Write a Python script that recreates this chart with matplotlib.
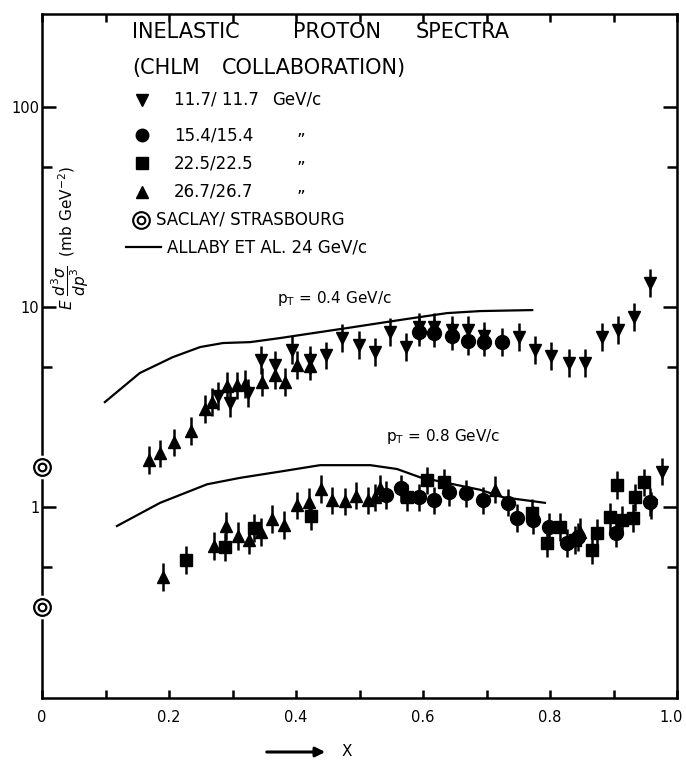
import numpy as np
import matplotlib.pyplot as plt
import matplotlib.transforms as mtransforms
from matplotlib.ticker import FixedLocator, NullFormatter

# pT = 0.4 GeV/c
x04_117 = [0.277, 0.296, 0.324, 0.345, 0.367, 0.394, 0.422, 0.447, 0.472, 0.499, 0.524,
           0.548, 0.573, 0.594, 0.617, 0.646, 0.671, 0.696, 0.751, 0.776, 0.802, 0.830,
           0.855, 0.882, 0.907, 0.932, 0.957]
y04_117 = [3.59, 3.31, 3.72, 5.43, 5.13, 6.10, 5.43, 5.75, 7.00, 6.46, 5.96,
           7.50, 6.31, 7.94, 7.94, 7.67, 7.67, 7.16, 7.08, 6.10, 5.69, 5.25,
           5.25, 7.08, 7.67, 8.91, 13.2]
x04_154 = [0.594, 0.617, 0.646, 0.671, 0.696, 0.724]
y04_154 = [7.50, 7.41, 7.16, 6.76, 6.68, 6.68]
x04_267 = [0.169, 0.186, 0.208, 0.235, 0.257, 0.268, 0.291, 0.307, 0.320, 0.346,
           0.367, 0.383, 0.402, 0.422]
y04_267 = [1.72, 1.86, 2.11, 2.40, 3.09, 3.35, 4.03, 4.07, 4.12, 4.22,
           4.57, 4.22, 5.13, 5.07]

# pT = 0.8 GeV/c
x08_117 = [0.959, 0.976]
y08_117 = [1.02, 1.50]
x08_154 = [0.542, 0.565, 0.594, 0.617, 0.641, 0.668, 0.694, 0.734, 0.748, 0.773,
           0.798, 0.827, 0.844, 0.904, 0.957]
y08_154 = [1.15, 1.24, 1.12, 1.08, 1.19, 1.17, 1.08, 1.05, 0.881, 0.861,
           0.794, 0.661, 0.708, 0.741, 1.06]
x08_225 = [0.227, 0.288, 0.334, 0.424, 0.575, 0.606, 0.633, 0.772, 0.795, 0.816,
           0.839, 0.866, 0.874, 0.894, 0.906, 0.913, 0.931, 0.934, 0.948]
y08_225 = [0.543, 0.631, 0.785, 0.902, 1.12, 1.36, 1.33, 0.933, 0.661, 0.794,
           0.684, 0.610, 0.741, 0.891, 1.29, 0.861, 0.881, 1.12, 1.33]
x08_267 = [0.191, 0.271, 0.290, 0.309, 0.326, 0.345, 0.362, 0.381, 0.402, 0.420,
           0.439, 0.457, 0.477, 0.494, 0.513, 0.524, 0.532, 0.713, 0.847]
y08_267 = [0.447, 0.638, 0.804, 0.716, 0.684, 0.750, 0.871, 0.813, 1.02, 1.06,
           1.23, 1.08, 1.07, 1.14, 1.08, 1.12, 1.24, 1.22, 0.750]

# Allaby et al. 24 GeV/c
xa04 = [0.099, 0.154, 0.206, 0.249, 0.285, 0.328, 0.375, 0.427, 0.480, 0.532,
        0.584, 0.638, 0.690, 0.772]
ya04 = [3.35, 4.68, 5.62, 6.31, 6.61, 6.68, 7.00, 7.41, 7.85, 8.32,
        8.81, 9.33, 9.55, 9.66]
xa08 = [0.118, 0.186, 0.260, 0.312, 0.378, 0.438, 0.517, 0.559, 0.595, 0.638,
        0.690, 0.726, 0.792]
ya08 = [0.804, 1.05, 1.30, 1.40, 1.51, 1.62, 1.62, 1.55, 1.41, 1.32,
        1.22, 1.12, 1.05]

# Saclay / Strasbourg
x_sac = [0.0, 0.0]
y_sac = [1.58, 0.316]

xticks = [0, 0.2, 0.4, 0.6, 0.8, 1.0]
xticklabels = ['0', '0.2', '0.4', '0.6', '0.8', '1.0']
yticks = [1, 10, 100]
yticklabels = ['1', '10', '100']

plt.rcParams['font.family'] = ['DejaVu Sans']
W, H = 686, 771
fig = plt.figure(figsize=(W / 100, H / 100), dpi=100)
L, R, B, T = 42, 677, 698, 14
ax = fig.add_axes([L / W, (H - B) / H, (R - L) / W, (B - T) / H])
ax.set_yscale('log')
ax.set_xlim(0, 1)
ax.set_ylim(0.111, 292)


def ax_xy(px, py):
    return (px - L) / (R - L), (B - py) / (B - T)


def errs(y):
    y = np.array(y)
    return [y - y / 1.17, y * 1.17 - y]


kw = dict(color='black', ls='none', elinewidth=1.8, capsize=0, zorder=3)
ax.errorbar(x04_117, y04_117, yerr=errs(y04_117), fmt='v', ms=9, **kw)
ax.errorbar(x04_154, y04_154, yerr=errs(y04_154), fmt='o', ms=10, **kw)
ax.errorbar(x04_267, y04_267, yerr=errs(y04_267), fmt='^', ms=9, **kw)
ax.errorbar(x08_117, y08_117, yerr=errs(y08_117), fmt='v', ms=9, **kw)
ax.errorbar(x08_154, y08_154, yerr=errs(y08_154), fmt='o', ms=10, **kw)
ax.errorbar(x08_225, y08_225, yerr=errs(y08_225), fmt='s', ms=8, **kw)
ax.errorbar(x08_267, y08_267, yerr=errs(y08_267), fmt='^', ms=9, **kw)

ax.plot(xa04, ya04, color='black', lw=1.6)
ax.plot(xa08, ya08, color='black', lw=1.6)

# saclay points sit on the axis and break it
ax.plot(x_sac, y_sac, 'o', ms=17, mfc='white', mec='none', clip_on=False, zorder=5)
ax.plot(x_sac, y_sac, 'o', ms=12, mfc='white', mec='black', mew=1.6, clip_on=False, zorder=6)
ax.plot(x_sac, y_sac, 'o', ms=5.5, mfc='white', mec='black', mew=1.6, clip_on=False, zorder=7)

for s in ax.spines.values():
    s.set_linewidth(1.8)

ax.xaxis.set_major_locator(FixedLocator(xticks))
ax.set_xticklabels(xticklabels, fontsize=10.5)
ax.xaxis.set_minor_locator(FixedLocator([0.1, 0.3, 0.5, 0.7, 0.9]))
ax.xaxis.set_minor_formatter(NullFormatter())
ax.yaxis.set_major_locator(FixedLocator(yticks))
ax.set_yticklabels(yticklabels, fontsize=10.5)
ax.yaxis.set_minor_locator(FixedLocator([0.5, 5, 50]))
ax.yaxis.set_minor_formatter(NullFormatter())
ax.tick_params(which='both', direction='in', top=True, right=True, width=1.8, colors='black')
ax.tick_params(axis='x', which='both', length=6, pad=9)
ax.tick_params(axis='y', which='major', length=10, pad=2)
ax.tick_params(axis='y', which='minor', length=7)
# keep "1.0" inside the picture
last = ax.get_xticklabels()[-1]
last.set_transform(last.get_transform() + mtransforms.ScaledTranslation(-6 / 100, 0, fig.dpi_scale_trans))

# title and legend block
tx = dict(transform=ax.transAxes, fontsize=15, va='center', ha='left')
for word, px in [('INELASTIC', 132), ('PROTON', 293), ('SPECTRA', 416)]:
    ax.text(*ax_xy(px, 32), word, **tx)
for word, px in [('(CHLM', 132), ('COLLABORATION)', 222)]:
    ax.text(*ax_xy(px, 68), word, **tx)

lg = dict(transform=ax.transAxes, fontsize=12, va='center', ha='left')
rows = [('v', 100, '11.7/ 11.7', 'GeV/c'), ('o', 135, '15.4/15.4', '\u201e'),
        ('s', 163, '22.5/22.5', '\u201e'), ('^', 192, '26.7/26.7', '\u201e')]
for mk, py, lab, extra in rows:
    ax.plot(*ax_xy(142, py), mk, color='black', ms=9, transform=ax.transAxes, clip_on=False)
    ax.text(*ax_xy(174, py), lab, **lg)
    if extra == 'GeV/c':
        ax.text(*ax_xy(272, py), extra, **lg)
    else:
        ax.text(*ax_xy(297, py - 5), extra, **lg)
ax.plot(*ax_xy(141, 220), 'o', ms=12, mfc='white', mec='black', mew=1.5, transform=ax.transAxes)
ax.plot(*ax_xy(141, 220), 'o', ms=5.5, mfc='white', mec='black', mew=1.5, transform=ax.transAxes)
ax.text(*ax_xy(156, 220), 'SACLAY/ STRASBOURG', **lg)
x0, y0 = ax_xy(126, 247)
x1, _ = ax_xy(161, 247)
ax.plot([x0, x1], [y0, y0], color='black', lw=1.6, transform=ax.transAxes)
ax.text(*ax_xy(167, 247), 'ALLABY ET AL. 24 GeV/c', **lg)

# y label inside the frame
ax.text(*ax_xy(70, 310), r'$E\ \dfrac{d^3\sigma}{dp^3}$  (mb GeV$^{-2}$)',
        transform=ax.transAxes, rotation=90, fontsize=11, ha='center', va='bottom')

ax.text(*ax_xy(277, 298), r'p$_\mathregular{T}$ = 0.4 GeV/c', transform=ax.transAxes,
        fontsize=11, ha='left', va='center')
ax.text(*ax_xy(386, 437), r'p$_\mathregular{T}$ = 0.8 GeV/c', transform=ax.transAxes,
        fontsize=11, ha='left', va='center')

# arrow with x
ax.annotate('', xy=ax_xy(328, 752), xytext=ax_xy(264, 752), xycoords='axes fraction',
            textcoords='axes fraction',
            arrowprops=dict(arrowstyle='-|>', color='black', lw=2.2, mutation_scale=14))
ax.text(*ax_xy(342, 752), 'X', transform=ax.transAxes, fontsize=11, ha='left', va='center')

fig.savefig('out.png', dpi=100)
